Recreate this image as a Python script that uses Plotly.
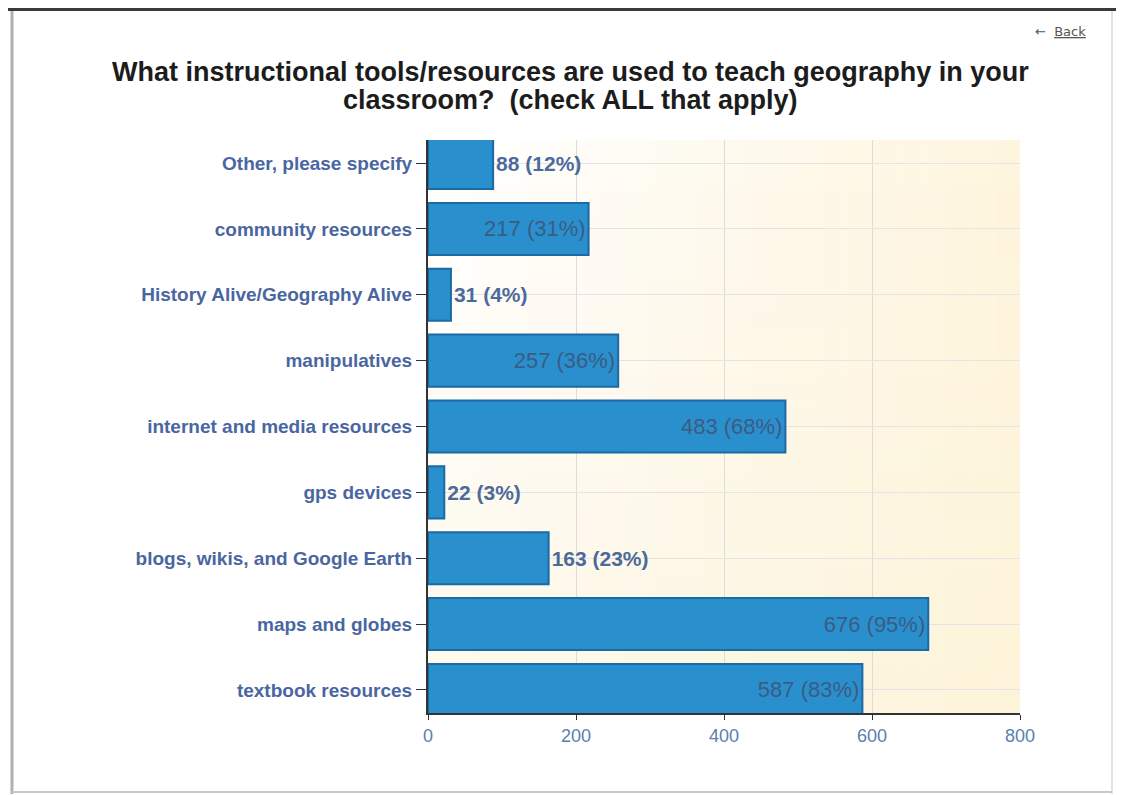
import plotly.graph_objects as go

categories = ["textbook resources", "maps and globes", "blogs, wikis, and Google Earth",
              "gps devices", "internet and media resources", "manipulatives",
              "History Alive/Geography Alive", "community resources", "Other, please specify"]
counts = [587, 676, 163, 22, 483, 257, 31, 217, 88]
percents = [83, 95, 23, 3, 68, 36, 4, 31, 12]
label_inside = [True, True, False, False, True, True, False, True, False]
x_ticks = [0, 200, 400, 600, 800]

labels = [f"{c} ({p}%)" for c, p in zip(counts, percents)]
positions = ["inside" if i else "outside" for i in label_inside]

W, H = 1116, 787
L, R, T, B = 420, 104, 132, 82
PW, PH = W - L - R, H - T - B

def px_x(px):
    return (px - L) / PW

def px_y(py):
    return (H - B - py) / PH

fig = go.Figure()
fig.add_trace(go.Bar(
    y=categories, x=counts, orientation="h",
    text=labels, textposition=positions, insidetextanchor="end",
    insidetextfont=dict(family="Arial, Liberation Sans", size=22, color="#3b5c84"),
    outsidetextfont=dict(family="Arial, Liberation Sans", size=21, color="#4d6a9c", weight="bold"),
    marker=dict(color="#2a8fcd", line=dict(color="#1b6aa3", width=2)),
    cliponaxis=False, hoverinfo="skip",
))

shapes = []
n = 24
for i in range(n):
    t = i / (n - 1)
    shapes.append(dict(type="rect", xref="x domain", yref="y domain",
                       x0=i / n, x1=(i + 1) / n, y0=0, y1=1,
                       fillcolor=f"rgba(253,242,212,{0.75 * t:.3f})", line=dict(width=0), layer="below"))
for i in range(n):
    t = i / (n - 1)
    shapes.append(dict(type="rect", xref="x domain", yref="y domain",
                       x0=0, x1=1, y0=1 - (i + 1) / n, y1=1 - i / n,
                       fillcolor=f"rgba(253,242,212,{0.45 * t:.3f})", line=dict(width=0), layer="below"))

# page frame
shapes += [
    dict(type="rect", xref="paper", yref="paper", x0=px_x(-10), x1=px_x(W + 10),
         y0=px_y(3), y1=px_y(-10), fillcolor="#3a3a3a", line=dict(width=0)),
    dict(type="line", xref="paper", yref="paper", x0=px_x(4), x1=px_x(4), y0=px_y(3), y1=px_y(786),
         line=dict(color="#b0b0b0", width=3)),
    dict(type="line", xref="paper", yref="paper", x0=px_x(1104), x1=px_x(1104), y0=px_y(3), y1=px_y(786),
         line=dict(color="#e2e2e2", width=2)),
    dict(type="line", xref="paper", yref="paper", x0=px_x(4), x1=px_x(1104), y0=px_y(784), y1=px_y(784),
         line=dict(color="#c8c8c8", width=2)),
]

fig.update_layout(
    width=W, height=H,
    paper_bgcolor="white", plot_bgcolor="white",
    margin=dict(l=L, r=R, t=T, b=B),
    bargap=0.21,
    showlegend=False,
    shapes=shapes,
    font=dict(family="Arial, Liberation Sans"),
)
fig.update_xaxes(range=[0, 800], tickvals=x_ticks, showgrid=True, gridcolor="#dcdcdc",
                 zeroline=False, showline=True, linecolor="#333333", linewidth=2,
                 ticks="outside", ticklen=5, tickcolor="#333333",
                 tickfont=dict(size=18, color="#5a80b0"), layer="above traces")
fig.update_yaxes(range=[-0.35, len(categories) - 1 + 0.35],
                 showgrid=True, gridcolor="#e4e4e4", showline=True, linecolor="#333333",
                 linewidth=2, ticks="outside", ticklen=10, tickcolor="#333333",
                 tickfont=dict(size=19, color="#4a66a0", weight="bold"), layer="above traces")

title_lines = ["What instructional tools/resources are used to teach geography in your",
               "classroom?  (check ALL that apply)"]
for line, py in zip(title_lines, [64, 92]):
    fig.add_annotation(text=line, xref="paper", yref="paper", x=px_x(562), y=px_y(py),
                       xanchor="center", yanchor="middle", showarrow=False,
                       font=dict(family="Arial, Liberation Sans", size=27, color="#1c1c1c", weight="bold"))

fig.add_annotation(text="←  <u>Back</u>", xref="paper", yref="paper",
                   x=px_x(1080), y=px_y(23), xanchor="right", yanchor="middle",
                   showarrow=False, font=dict(size=13, color="#555555", family="DejaVu Sans"))

fig.write_html("out.html")
